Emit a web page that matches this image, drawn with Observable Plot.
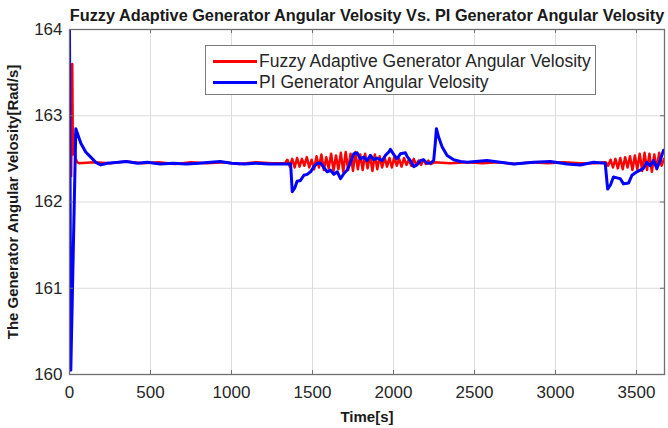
<!DOCTYPE html>
<html>
<head>
<meta charset="utf-8">
<script src="https://cdn.jsdelivr.net/npm/d3@7"></script>
<script src="https://cdn.jsdelivr.net/npm/@observablehq/plot@0.6"></script>
<style>
  html, body { margin: 0; padding: 0; background: #fff; }
  #wrap { position: relative; width: 668px; height: 428px; font-family: "Liberation Sans", Arial, Helvetica, sans-serif; }
  #wrap svg { display: block; }
  g[aria-label="x-axis label"] text { font-weight: bold; font-size: 15px; fill: #1a1a1a; }
  g[aria-label="y-axis label"] text { font-weight: bold; font-size: 15px; fill: #1a1a1a; }
  #legend { position: absolute; left: 205px; top: 45px; width: 391px; height: 50px; border: 1px solid #7a7a7a; background: #fff; box-sizing: border-box; }
  #legend .row { position: absolute; left: 0; height: 20px; display: flex; align-items: center; font-size: 17.5px; color: #262626; white-space: nowrap; }
  #legend .sw { width: 44px; height: 3px; margin-left: 7px; margin-right: 2px; }
</style>
</head>
<body>
<div id="wrap"></div>
<script>
const titleText = "Fuzzy Adaptive Generator Angular Velosity Vs. PI Generator Angular Velosity";
const xLabel = "Time[s]";
const yLabel = "The Generator Angular Velosity[Rad/s]";
const seriesNames = ["Fuzzy Adaptive Generator Angular Velosity", "PI Generator Angular Velosity"];
const seriesColors = ["#ff0000", "#0000ff"];
const xTicks = [0, 500, 1000, 1500, 2000, 2500, 3000, 3500];
const yTicks = [160, 161, 162, 163, 164];
const xDomain = [0, 3673];
const yDomain = [160, 164];

// Fuzzy adaptive (red): [time, value]
const fuzzy = [
  [0,162.40],[10,162.30],[17,163.60],[21,162.55],[25,162.78],[30,162.60],[38,162.50],[48,162.46],[60,162.45],
  [150,162.46],[250,162.45],[350,162.47],[450,162.45],[550,162.46],[650,162.44],[750,162.46],[850,162.45],
  [950,162.46],[1050,162.44],[1150,162.46],[1250,162.45],[1330,162.45],
  [1345,162.49],[1360,162.41],[1375,162.50],[1390,162.40],[1405,162.51],[1420,162.41],[1435,162.50],[1450,162.42],
  [1465,162.52],[1480,162.40],[1495,162.49],[1510,162.38],[1525,162.53],[1540,162.40],[1555,162.55],[1570,162.37],
  [1585,162.52],[1600,162.39],[1615,162.56],[1630,162.36],[1645,162.54],[1660,162.38],[1675,162.57],[1690,162.35],
  [1705,162.58],[1720,162.37],[1735,162.56],[1750,162.36],[1765,162.58],[1780,162.38],[1795,162.55],[1810,162.37],
  [1825,162.56],[1840,162.39],[1855,162.54],[1870,162.36],[1885,162.55],[1900,162.38],[1915,162.53],[1930,162.40],
  [1945,162.52],[1960,162.41],[1975,162.51],[1990,162.40],[2005,162.52],[2020,162.42],[2035,162.50],[2050,162.41],
  [2065,162.51],[2080,162.43],[2095,162.49],[2110,162.42],[2125,162.50],[2140,162.43],[2155,162.48],[2170,162.43],
  [2185,162.49],[2200,162.44],[2215,162.48],[2230,162.44],[2250,162.46],
  [2350,162.45],[2450,162.46],[2550,162.45],[2650,162.46],[2750,162.44],[2850,162.46],[2950,162.45],[3050,162.46],
  [3150,162.45],[3250,162.45],[3310,162.46],
  [3325,162.42],[3340,162.49],[3355,162.40],[3370,162.50],[3385,162.39],[3400,162.51],[3415,162.38],[3430,162.52],
  [3445,162.40],[3460,162.53],[3475,162.37],[3490,162.54],[3505,162.38],[3520,162.56],[3535,162.36],[3550,162.57],
  [3565,162.37],[3580,162.56],[3595,162.35],[3610,162.55],[3625,162.38],[3640,162.57],[3655,162.42],[3670,162.50]
];

// PI (blue): [time, value]
const pi = [
  [0,164.0],[8,160.05],[39,162.85],[70,162.68],[100,162.58],[131,162.52],[162,162.46],[193,162.43],[234,162.45],
  [300,162.46],[350,162.47],[420,162.45],[480,162.46],[560,162.44],[640,162.45],[720,162.44],[800,162.45],
  [870,162.46],[930,162.47],[1000,162.45],[1080,162.44],[1150,162.45],[1230,162.44],[1300,162.44],[1365,162.44],
  [1375,162.12],[1390,162.16],[1405,162.24],[1426,162.25],[1447,162.31],[1467,162.32],[1488,162.35],[1509,162.41],
  [1529,162.45],[1550,162.45],[1570,162.40],[1591,162.35],[1611,162.37],[1632,162.32],[1653,162.35],[1673,162.27],
  [1694,162.33],[1714,162.37],[1735,162.46],[1755,162.56],[1776,162.57],[1796,162.50],[1817,162.52],[1837,162.48],
  [1858,162.54],[1878,162.49],[1899,162.51],[1930,162.48],[1950,162.54],[1971,162.58],[1981,162.61],[2002,162.55],
  [2022,162.50],[2043,162.56],[2074,162.57],[2084,162.53],[2104,162.48],[2125,162.41],[2145,162.43],[2166,162.48],
  [2186,162.49],[2207,162.45],[2228,162.45],[2248,162.48],[2258,162.68],[2265,162.85],[2279,162.75],[2300,162.64],
  [2331,162.54],[2372,162.49],[2413,162.47],[2454,162.46],[2577,162.48],[2660,162.46],[2742,162.44],[2865,162.46],
  [2968,162.47],[3071,162.44],[3153,162.43],[3235,162.46],[3307,162.45],[3322,162.15],[3340,162.20],[3358,162.29],
  [3380,162.28],[3400,162.27],[3420,162.21],[3451,162.22],[3472,162.31],[3502,162.35],[3523,162.37],[3543,162.39],
  [3564,162.46],[3585,162.42],[3605,162.48],[3626,162.39],[3646,162.48],[3667,162.60]
];

const toRows = (arr) => arr.map(([t, v]) => ({t, v}));
const redRows = toRows(fuzzy);
const blueRows = toRows(pi);

const tickLenY = 0.046;  // inward tick length in y units
const tickLenX = 25;     // inward tick length in x units
const axisColor = "#6f6f6f";
const fmt = d => String(d);

const chart = Plot.plot({
  width: 668,
  height: 428,
  marginLeft: 69,
  marginRight: 4,
  marginTop: 29,
  marginBottom: 54,
  style: {fontFamily: "'Liberation Sans', Arial, Helvetica, sans-serif", fontSize: "17px", color: "#262626", background: "#fff", overflow: "visible"},
  x: {domain: xDomain},
  y: {domain: yDomain},
  marks: [
    Plot.gridX(xTicks, {stroke: "#dcdcdc", strokeOpacity: 1}),
    Plot.gridY(yTicks, {stroke: "#dcdcdc", strokeOpacity: 1}),
    Plot.line(redRows, {x: "t", y: "v", stroke: seriesColors[0], strokeWidth: 2.5, clip: true}),
    Plot.line(blueRows, {x: "t", y: "v", stroke: seriesColors[1], strokeWidth: 3, clip: true}),
    Plot.ruleX(xTicks, {x: d => d, y1: yDomain[0], y2: yDomain[0] + tickLenY, stroke: axisColor}),
    Plot.ruleX(xTicks, {x: d => d, y1: yDomain[1], y2: yDomain[1] - tickLenY, stroke: axisColor}),
    Plot.ruleY(yTicks, {y: d => d, x1: xDomain[0], x2: xDomain[0] + tickLenX, stroke: axisColor}),
    Plot.ruleY(yTicks, {y: d => d, x1: xDomain[1], x2: xDomain[1] - tickLenX, stroke: axisColor}),
    Plot.frame({stroke: axisColor, strokeWidth: 1.3}),
    Plot.axisX(xTicks, {tickSize: 0, tickPadding: 11, fontSize: 17, fill: "#262626", tickFormat: fmt, label: xLabel, labelAnchor: "center", labelOffset: 47, labelArrow: "none"}),
    Plot.axisY(yTicks, {tickSize: 0, tickPadding: 7, fontSize: 17, fill: "#262626", tickFormat: fmt, label: yLabel, labelAnchor: "center", labelOffset: 62, labelArrow: "none"}),
    Plot.text([titleText], {frameAnchor: "top", lineAnchor: "bottom", dy: -9, fontWeight: "bold", fontSize: 16.3, fill: "#1a1a1a", text: d => d})
  ]
});

const wrap = document.getElementById("wrap");
wrap.appendChild(chart);

const legend = document.createElement("div");
legend.id = "legend";
seriesNames.forEach((name, i) => {
  const row = document.createElement("div");
  row.className = "row";
  row.style.top = (5 + i * 21) + "px";
  const sw = document.createElement("span");
  sw.className = "sw";
  sw.style.background = seriesColors[i];
  const lab = document.createElement("span");
  lab.textContent = name;
  row.appendChild(sw);
  row.appendChild(lab);
  legend.appendChild(row);
});
wrap.appendChild(legend);
</script>
</body>
</html>
